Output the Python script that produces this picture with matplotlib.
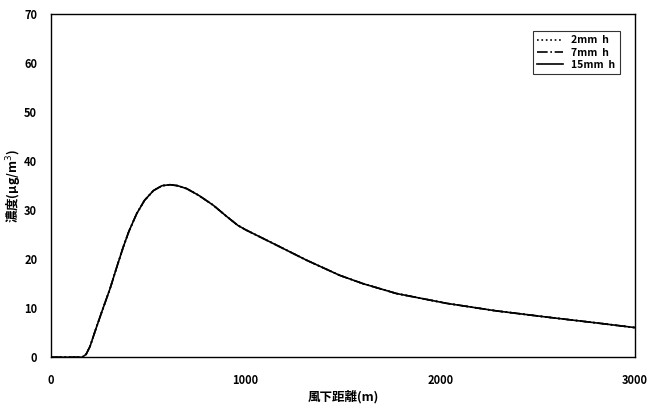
import matplotlib.pyplot as plt

plt.rcParams['font.family'] = ['Noto Sans CJK JP', 'DejaVu Sans']

# 風下距離 (m) と濃度 (μg/m3)
distance = [0, 100, 160, 180, 200, 226, 260, 303, 340, 371, 400, 440, 480,
            526, 570, 611, 650, 697, 760, 834, 900, 960, 1000, 1142, 1313,
            1484, 1604, 1775, 2032, 2289, 2546, 2803, 3000]
conc = [0, 0, 0, 0.6, 2.2, 5.3, 9.2, 14.0, 18.7, 22.5, 25.7, 29.3, 32.0,
        34.0, 35.0, 35.2, 35.0, 34.4, 33.0, 31.0, 28.8, 26.9, 26.0, 23.2,
        19.8, 16.7, 15.0, 13.0, 11.0, 9.45, 8.2, 7.0, 6.05]

labels = ['2mm  h', '7mm  h', '15mm  h']
styles = [':', '-.', '-']

fig = plt.figure(figsize=(6.47, 4.05), dpi=100)
ax = fig.add_axes([0.079, 0.118, 0.902, 0.847])

for lab, ls in zip(labels, styles):
    ax.plot(distance, conc, color='black', linestyle=ls, linewidth=1.2, label=lab)

ax.set_xlim(0, 3000)
ax.set_ylim(0, 70)
ax.set_xticks([0, 1000, 2000, 3000])
ax.set_yticks(range(0, 71, 10))
ax.tick_params(axis='y', length=0, labelsize=8, pad=10)
ax.tick_params(axis='x', length=0, labelsize=8, pad=12)
for t in ax.get_xticklabels() + ax.get_yticklabels():
    t.set_fontweight('bold')
for s in ax.spines.values():
    s.set_linewidth(1.0)

ax.set_xlabel('風下距離(m)', fontsize=9, fontweight='bold', labelpad=2)
ax.set_ylabel('濃度(μg/m$^3$)', fontsize=9, fontweight='bold')
ax.yaxis.set_label_coords(-0.047, 0.5)

leg = ax.legend(loc='upper right', bbox_to_anchor=(0.974, 0.95), fontsize=7.5,
                frameon=True, fancybox=False, edgecolor='black',
                handlelength=2.5, borderpad=0.4, labelspacing=0.2,
                borderaxespad=0)
leg.get_frame().set_linewidth(0.8)
for t in leg.get_texts():
    t.set_fontweight('bold')

plt.savefig('out.png', dpi=100)
